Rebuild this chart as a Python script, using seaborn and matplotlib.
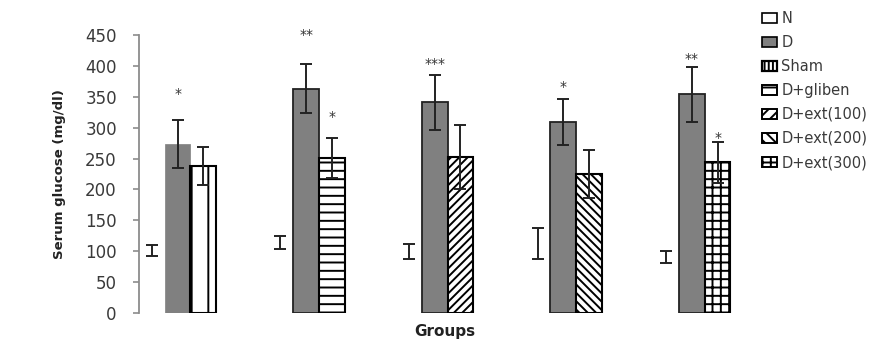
import matplotlib
matplotlib.use("Agg")
import matplotlib.pyplot as plt
from matplotlib.patches import Patch
import numpy as np
import pandas as pd
import seaborn as sns

# Serum glucose per group (mean and SD), three bars per group
groups = ["G1", "G2", "G3", "G4", "G5"]
slots = ["N", "D", "T"]
normal_mean = [101, 114, 100, 112, 91]
normal_sd = [9, 10, 12, 25, 10]
diabetic_mean = [273, 363, 341, 309, 354]
diabetic_sd = [39, 40, 45, 37, 45]
treated_mean = [238, 251, 252, 225, 244]
treated_sd = [31, 33, 52, 39, 33]
treated_names = ["Sham", "D+gliben", "D+ext(100)", "D+ext(200)", "D+ext(300)"]

# significance marks and the height they sit at
diabetic_stars = ["*", "**", "***", "*", "**"]
diabetic_star_y = [355, 450, 403, 366, 411]
treated_stars = ["", "*", "", "", "*"]
treated_star_y = [0, 318, 0, 0, 284]

legend_labels = ["N", "D", "Sham", "D+gliben", "D+ext(100)", "D+ext(200)", "D+ext(300)"]

sns.set_theme(style="white")
plt.rcParams["font.family"] = ["DejaVu Sans"]
plt.rcParams["hatch.linewidth"] = 1.4
plt.rcParams["hatch.color"] = "black"

df = pd.DataFrame({
    "group": groups * 3,
    "slot": ["N"] * 5 + ["D"] * 5 + ["T"] * 5,
    "value": normal_mean + diabetic_mean + treated_mean,
})

fig = plt.figure(figsize=(8.8, 3.47), dpi=100)
ax = fig.add_axes([0.158, 0.098, 0.694, 0.801])

sns.barplot(data=df, x="group", y="value", hue="slot", hue_order=slots,
            order=groups, width=0.6, errorbar=None, legend=False,
            palette={"N": "white", "D": "#808080", "T": "white"}, ax=ax)

cont_n, cont_d, cont_t = ax.containers[:3]
treated_hatch = ["|", "--", "////", "\\\\\\\\", "++"]

for bar in cont_n:
    bar.set_edgecolor("white")
    bar.set_linewidth(0.5)
for i, bar in enumerate(cont_d):
    bar.set_facecolor("#808080")
    if i == 0:
        bar.set_edgecolor("#808080")
        bar.set_linewidth(0.5)
    else:
        bar.set_edgecolor("#222222")
        bar.set_linewidth(1.3)
for bar, h in zip(cont_t, treated_hatch):
    bar.set_facecolor("white")
    bar.set_edgecolor("black")
    bar.set_linewidth(1.5)
    bar.set_hatch(h)

def centers(cont):
    return [b.get_x() + b.get_width() / 2 for b in cont]

err_kw = dict(fmt="none", capsize=4, elinewidth=1.4, capthick=1.4, zorder=5)
ax.errorbar(centers(cont_n), normal_mean, yerr=normal_sd, ecolor="#222222", **err_kw)
ax.errorbar(centers(cont_d), diabetic_mean, yerr=diabetic_sd, ecolor="#222222", **err_kw)
ax.errorbar(centers(cont_t), treated_mean, yerr=treated_sd, ecolor="#222222", **err_kw)

for x, s, y in zip(centers(cont_d), diabetic_stars, diabetic_star_y):
    ax.text(x, y, s, ha="center", va="center", fontsize=10, color="#333333", clip_on=False)
for x, s, y in zip(centers(cont_t), treated_stars, treated_star_y):
    if s:
        ax.text(x, y, s, ha="center", va="center", fontsize=10, color="#333333", clip_on=False)

ax.set_ylim(0, 450)
ax.set_yticks(np.arange(0, 451, 50))
ax.set_xlim(-0.30, 4.45)
ax.set_xticks([])
ax.set_xlabel("Groups", fontsize=11, fontweight="bold", color="#222222", labelpad=8)
ax.set_ylabel("Serum glucose (mg/dl)", fontsize=9.5, fontweight="bold", color="#222222", labelpad=14)

for side in ["top", "right", "bottom"]:
    ax.spines[side].set_visible(False)
ax.spines["left"].set_color("#8c8c8c")
ax.spines["left"].set_linewidth(1.3)
ax.tick_params(axis="y", direction="out", length=4, width=1.2, color="#8c8c8c",
               pad=12, labelsize=12, labelcolor="#3a3a3a", left=True)

handles = [
    Patch(facecolor="white", edgecolor="black", linewidth=1.2),
    Patch(facecolor="#808080", edgecolor="black", linewidth=1.2),
    Patch(facecolor="white", edgecolor="black", hatch="||||", linewidth=1.6),
    Patch(facecolor="white", edgecolor="black", hatch="--", linewidth=1.4),
    Patch(facecolor="white", edgecolor="black", hatch="///", linewidth=1.4),
    Patch(facecolor="white", edgecolor="black", hatch="\\\\\\", linewidth=1.4),
    Patch(facecolor="white", edgecolor="black", hatch="++", linewidth=1.4),
]
fig.legend(handles, legend_labels, loc="upper left", bbox_to_anchor=(0.858, 0.99),
           frameon=False, fontsize=10.5, borderpad=0, handlelength=1.0, handleheight=0.7,
           handletextpad=0.3, labelspacing=0.62, labelcolor="#3a3a3a")

fig.savefig("out.png", dpi=100)
